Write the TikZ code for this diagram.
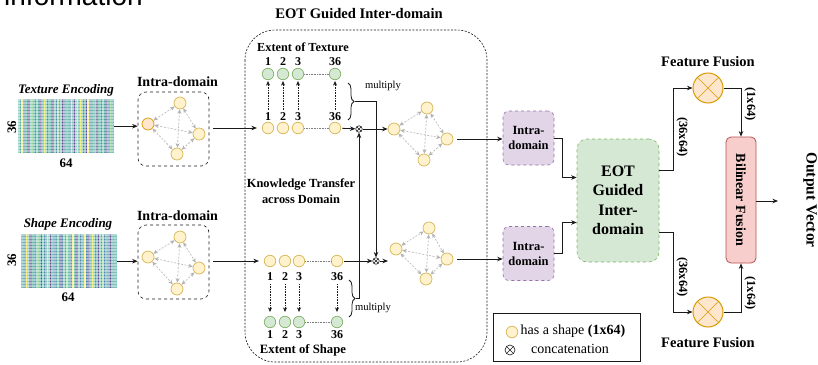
\documentclass[tikz,border=0pt]{standalone}
\usepackage{fontspec}
\setmainfont{Liberation Serif}
\newfontfamily\headsans{Liberation Sans}
\usetikzlibrary{arrows.meta,decorations.pathreplacing,calc}

% palette
\definecolor{ylwfill}{HTML}{FFF2CC}\definecolor{ylwdraw}{HTML}{D6B656}
\definecolor{grnfill}{HTML}{D5E8D4}\definecolor{grndraw}{HTML}{82B366}
\definecolor{orgfill}{HTML}{FFE6CC}\definecolor{orgdraw}{HTML}{D79B00}
\definecolor{purfill}{HTML}{E1D5E7}\definecolor{purdraw}{HTML}{9673A6}
\definecolor{redfill}{HTML}{F8CECC}\definecolor{reddraw}{HTML}{B85450}
\definecolor{edgegray}{HTML}{B3B3B3}
\definecolor{linedark}{HTML}{1A1A1A}
% heat-map colours (viridis-like, light)
\definecolor{hm0}{HTML}{5A4A8C}
\definecolor{hm1}{HTML}{4C86A8}
\definecolor{hm2}{HTML}{4FA6A6}
\definecolor{hm3}{HTML}{6CC2AA}
\definecolor{hm4}{HTML}{94D49C}
\definecolor{hm5}{HTML}{EEE85A}

\newcommand\setfs[2]{\fontsize{#1}{#2}\selectfont}

% heat map: top-left x, top-left y, column colour indices
\newcommand\heatmap[3]{%
  \foreach \c [count=\i from 0] in {#3}
    \fill[hm\c] ({#1+\i*1.5},#2) rectangle ++(1.5,54);
  \foreach \k in {0,...,36}
    \draw[white,opacity=0.4,line width=0.35pt] (#1,{#2+\k*1.5}) -- ++(96,0);
  \foreach \k in {0,...,64}
    \draw[white,opacity=0.3,line width=0.3pt] ({#1+\k*1.5},#2) -- ++(0,54);
}

% four-node fully connected graph: prefix, L, T, R, B, extra style of L
\newcommand\minigraph[6]{%
  \node[netc,#6] (#1L) at (#2) {};
  \node[netc] (#1T) at (#3) {};
  \node[netc] (#1R) at (#4) {};
  \node[netc] (#1B) at (#5) {};
  \foreach \a/\b in {L/T,L/R,L/B,T/R,T/B,R/B}
    \draw[netedge] (#1\a) -- (#1\b);
}

\tikzset{
  xpic/.style={path picture={\draw[#1,line width=0.6pt]
      (path picture bounding box.north west) -- (path picture bounding box.south east)
      (path picture bounding box.north east) -- (path picture bounding box.south west);}},
  ycirc/.style={circle,draw=ylwdraw,fill=ylwfill,minimum size=11.5pt,inner sep=0pt,line width=0.7pt},
  gcirc/.style={circle,draw=grndraw,fill=grnfill,minimum size=11.5pt,inner sep=0pt,line width=0.7pt},
  netc/.style={circle,draw=ylwdraw,fill=ylwfill,minimum size=12pt,inner sep=0pt,line width=0.7pt},
  orgcirc/.style={draw=orgdraw,fill=orgfill},
  netedge/.style={draw=edgegray,dash pattern=on 2pt off 1.5pt,line width=0.6pt,
      {Stealth[length=4.5pt,width=4pt]}-{Stealth[length=4.5pt,width=4pt]}},
  arr/.style={draw=linedark,line width=0.8pt,-{Stealth[length=5.5pt,width=4.5pt]}},
  dotarr/.style={draw=linedark,densely dotted,line width=0.6pt,-{Stealth[length=4.5pt,width=4pt]}},
  dotlink/.style={draw=gray,densely dotted,line width=0.6pt},
  catnode/.style={circle,draw=linedark,inner sep=0pt,minimum size=6.5pt,line width=0.6pt,xpic=linedark},
  fusecirc/.style={circle,draw=orgdraw,fill=orgfill,minimum size=30pt,inner sep=0pt,line width=1pt,xpic={orgdraw,line width=1pt}},
  intrabox/.style={draw=linedark,dashed,rounded corners=8pt,minimum width=71pt,minimum height=74pt,line width=0.6pt},
  purbox/.style={draw=purdraw,fill=purfill,dashed,rounded corners=6pt,minimum width=51pt,minimum height=54pt,
      line width=0.6pt,align=center,font=\bfseries\setfs{12.5}{15}},
  numlab/.style={font=\bfseries\setfs{12}{14},inner sep=1pt},
  boldlab/.style={font=\bfseries\setfs{14}{16}},
  sidelab/.style={font=\bfseries\setfs{12.5}{14},rotate=-90,inner sep=1pt},
  bracedeco/.style={decorate,decoration={brace,amplitude=6pt},line width=0.8pt,draw=linedark},
}

\begin{document}
\begin{tikzpicture}[x=1pt,y=-1pt]
\useasboundingbox (0,0) rectangle (818,364);
\clip (0,0) rectangle (818,364);
\fill[white] (0,0) rectangle (818,364);

% tail of the preceding line of text
\node[font=\headsans\setfs{28}{30},anchor=base west,inner sep=0pt] (prevtext) at (4,5.5) {information};

% ---------------- encodings ----------------
\heatmap{18}{99}{3,2,5,3,1,3,0,2, 3,4,2,1,3,2,0,3, 2,5,3,1,2,3,0,2, 3,1,4,2,3,0,1,3,
                 2,3,1,5,2,0,3,5, 2,5,3,1,2,0,5,3, 1,3,2,4,0,3,2,1, 3,2,0,3,1,4,2,3}
\node[minimum width=96pt,minimum height=54pt,inner sep=0pt,anchor=north west] (texmap) at (18,99) {};
\node[font=\bfseries\itshape\setfs{13}{15}] (textitle) at (66,90) {Texture Encoding};
\node[font=\bfseries\setfs{13}{15},rotate=90] (texrows) at (12,127) {36};
\node[font=\bfseries\setfs{13}{15}] (texcols) at (66,163) {64};

\heatmap{21}{234}{2,3,1,5,3,2,0,3, 1,2,3,4,2,0,3,1, 2,5,3,0,2,3,1,2, 3,2,0,1,3,2,4,3,
                  1,2,5,3,0,2,3,1, 2,3,5,1,0,3,2,5, 3,1,2,0,3,2,4,1, 2,3,1,0,2,3,2,3}
\node[minimum width=96pt,minimum height=54pt,inner sep=0pt,anchor=north west] (shpmap) at (21,234) {};
\node[font=\bfseries\itshape\setfs{13}{15}] (shptitle) at (68,224) {Shape Encoding};
\node[font=\bfseries\setfs{13}{15},rotate=90] (shprows) at (12,260) {36};
\node[font=\bfseries\setfs{13}{15}] (shpcols) at (68,297) {64};

% ---------------- intra-domain graphs ----------------
\node[intrabox] (tintra) at (173.5,129) {};
\node[boldlab] (tintralab) at (177.5,82) {Intra-domain};
\minigraph{ti}{148,124}{180,103}{199,134}{177,154}{orgcirc}

\node[intrabox] (sintra) at (173.5,262) {};
\node[boldlab] (sintralab) at (177.5,216) {Intra-domain};
\minigraph{si}{148,257}{180,237}{199,268}{177,289}{}

\draw[arr] (texmap.east) -- (texmap.east -| tintra.west);
\draw[arr] (shpmap.east) -- (shpmap.east -| sintra.west);

% ---------------- EOT guided inter-domain block ----------------
\draw[linedark,dash pattern=on 2pt off 1.5pt,line width=0.6pt,rounded corners=30pt]
  (245,30) rectangle (487,362);
\node[font=\bfseries\setfs{14.6}{16}] (eottitle) at (359,14) {EOT Guided Inter-domain};

% texture extent
\node[font=\bfseries\setfs{12.3}{14}] (textent) at (303,47) {Extent of Texture};
\foreach \n/\x in {1/268,2/283,3/298,36/335}{
  \node[ycirc] (t\n) at (\x,128) {};
  \node[gcirc] (g\n) at (\x,74) {};
  \node[numlab] (tn\n) at (\x,117) {\n};
  \node[numlab] (gn\n) at (\x,62) {\n};
  \draw[dotarr,shorten <=2pt,shorten >=1pt] (tn\n.north) -- (g\n.south);
}
\draw[dotlink] (t3) -- (t36);
\draw[dotlink] (g3) -- (g36);
\draw[bracedeco] (348,83) -- (348,120);
\coordinate (ubt) at (355,101.5);
\node[font=\setfs{10.6}{12}] (tmul) at (383,86) {multiply};

% shape extent
\foreach \n/\x in {1/270,2/285,3/299,36/337}{
  \node[ycirc] (s\n) at (\x,261) {};
  \node[gcirc] (h\n) at (\x,322) {};
  \node[numlab] (sn\n) at (\x,277) {\n};
  \node[numlab] (hn\n) at (\x,335) {\n};
  \draw[dotarr,shorten <=2pt,shorten >=4pt] (sn\n.south) -- (h\n.north);
}
\draw[dotlink] (s3) -- (s36);
\draw[dotlink] (h3) -- (h36);
\draw[bracedeco] (349,280) -- (349,317);
\coordinate (lbt) at (356,298.5);
\node[font=\setfs{10.6}{12}] (smul) at (373,308) {multiply};
\node[font=\bfseries\setfs{12.7}{14}] (sextent) at (303,350) {Extent of Shape};

\node[font=\bfseries\setfs{12.4}{16},align=center] (ktrans) at (301,191) {Knowledge Transfer\\across Domain};

% concatenations
\node[catnode] (catA) at (359,129) {};
\node[catnode] (catB) at (376,261) {};

\draw[arr,shorten <=4pt,shorten >=5pt] (tintra.east |- t1) -- (t1.west);
\draw[arr,shorten <=4pt,shorten >=5pt] (sintra.east |- s1) -- (s1.west);
\draw[arr,shorten <=1pt] (t36) -- (catA);
\draw[arr,shorten <=1pt] (s36) -- (catB);
\draw[arr] (ubt) -| (catB.north);
\draw[arr] (lbt) -| (catA.south);

% inter-domain graphs
\minigraph{ui}{394,129}{427,108}{447,139}{424,160}{}
\minigraph{li}{396,249}{429,228}{447,259}{426,279}{}
\draw[arr] (catA) -- (uiL);
\coordinate (lin) at (388,261);
\draw[arr] (catB) -- (lin);

% ---------------- right part ----------------
\node[purbox] (pu) at (528.5,138) {Intra-\\domain};
\node[purbox] (pl) at (528.5,253.5) {Intra-\\domain};
\draw[arr,shorten <=4pt] (uiR.east) -- (uiR.east -| pu.west);
\draw[arr,shorten <=4pt] (liR.east) -- (liR.east -| pl.west);

\node[draw=grndraw,fill=grnfill,dashed,rounded corners=10pt,minimum width=82pt,minimum height=123pt,
      line width=0.6pt,align=center,font=\bfseries\setfs{16}{19.5}] (eot) at (618,200.5) {EOT\\Guided\\Inter-\\domain};
\draw[arr] (pu.east) -- ++(8,0) |- ([yshift=23pt]eot.west);
\draw[arr] (pl.east) -- ++(8,0) |- ([yshift=-22pt]eot.west);

\node[fusecirc] (ffu) at (708,88) {};
\node[fusecirc] (ffl) at (708,312) {};
\node[font=\bfseries\setfs{14.5}{16}] (ffulab) at (708,62) {Feature Fusion};
\node[font=\bfseries\setfs{14.5}{16}] (ffllab) at (708,343) {Feature Fusion};
\draw[arr] ([yshift=30.5pt]eot.east) -- ++(14,0) |- (ffu.west);
\draw[arr] ([yshift=-31.5pt]eot.east) -- ++(14,0) |- (ffl.west);
\node[sidelab] (dimu) at (682,137) {(36x64)};
\node[sidelab] (diml) at (682,277) {(36x64)};

\node[draw=reddraw,fill=redfill,rounded corners=5pt,minimum width=30pt,minimum height=126pt,line width=0.8pt] (bf) at (741,200) {};
\node[font=\bfseries\setfs{14}{16},rotate=-90] (bflab) at (bf.center) {Bilinear Fusion};
\draw[arr] (ffu.east) -| (bf.north);
\draw[arr] (ffl.east) -| (bf.south);
\node[sidelab] (vecu) at (750,104) {(1x64)};
\node[sidelab] (vecl) at (750,293) {(1x64)};

\coordinate (outend) at (778,201);
\draw[arr] (bf.east |- outend) -- (outend);
\node[font=\bfseries\setfs{15.5}{17},rotate=-90] (outlab) at (810,200) {Output Vector};

% ---------------- legend ----------------
\node[draw=linedark,line width=0.8pt,minimum width=147pt,minimum height=48pt,inner sep=0pt] (legend) at (566.5,337.5) {};
\node[ycirc] (legcirc) at (512,332) {};
\node[font=\setfs{14}{16},anchor=west,inner sep=0pt] (legtext) at (520.5,331) {has a shape \textbf{(1x64)}};
\node[catnode,minimum size=10pt] (legcat) at (510,350) {};
\node[font=\setfs{14}{16}] (legcattext) at (570,349) {concatenation};
\end{tikzpicture}
\end{document}
